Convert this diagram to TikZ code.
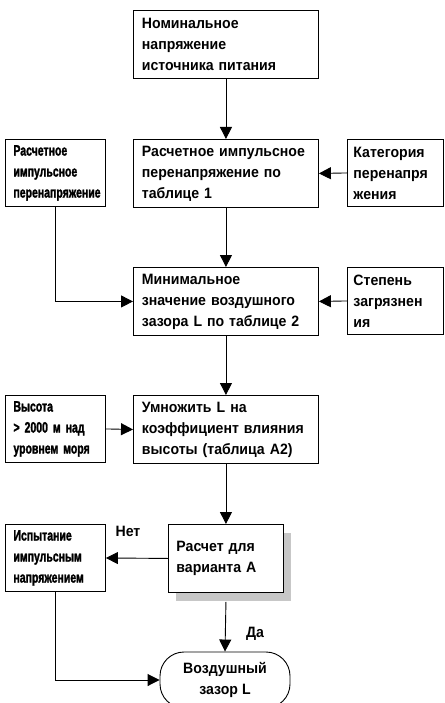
\documentclass[tikz,border=0pt]{standalone}
\usepackage{fontspec}
\setmainfont{Liberation Sans}[FakeStretch=0.94]
\newfontfamily\narrowfont[FakeStretch=0.7, FakeBold=1.6]{Liberation Sans Bold}
\usetikzlibrary{arrows.meta}
\usetikzlibrary{shadows}

\begin{document}
\begin{tikzpicture}[
    x=1pt, y=-1pt,
    every node/.style={font=\bfseries\fontsize{15}{21}\selectfont},
    mainbox/.style={draw, line width=0.9pt, anchor=north west, align=left,
        inner xsep=8.5pt, inner ysep=0pt, minimum height=68pt, text width=168pt},
    sidebox/.style={draw, line width=0.9pt, anchor=north west, align=left,
        inner xsep=8pt, inner ysep=0pt, minimum height=67pt, text width=84pt,
        font=\narrowfont\fontsize{15}{21}\selectfont},
    rightbox/.style={draw, line width=0.9pt, anchor=north west, align=left,
        inner xsep=6pt, inner ysep=0pt, minimum height=67pt, text width=84pt},
    arrow/.style={-{Triangle[length=12pt,width=12pt]}, line width=0.9pt}
]
\useasboundingbox (0,0) rectangle (444,703);

% Main column
\node[mainbox] (nom) at (133,10) {Номинальное\\напряжение\\источника питания};
\node[mainbox] (tab1) at (133,139) {Расчетное импульсное\\перенапряжение по\\таблице 1};
\node[mainbox] (minL) at (133,267) {Минимальное\\значение воздушного\\зазора L по таблице 2};
\node[mainbox] (mult) at (133,395) {Умножить L на\\коэффициент влияния\\высоты (таблица A2)};
\node[mainbox, text width=99pt, inner xsep=8pt,
      drop shadow={shadow xshift=8pt, shadow yshift=-9pt, fill=black!22, opacity=1},
      fill=white] (varA) at (168,524) {Расчет для\\варианта A};
\node[draw, line width=0.9pt, rounded corners=24pt, minimum width=130pt,
      minimum height=56pt, align=center, inner sep=0pt] (air) at (225,680)
      {Воздушный\\зазор L};

% Left side
\node[sidebox] (imp) at (5,139) {Расчетное\\импульсное\\перенапряжение};
\node[sidebox] (alt) at (5,395) {Высота\\> 2000 м над\\уровнем моря};
\node[sidebox] (test) at (5,524) {Испытание\\импульсным\\напряжением};

% Right side
\node[rightbox] (cat) at (347,139) {Категория\\перенапря\\жения};
\node[rightbox] (pol) at (347,267) {Степень\\загрязнен\\ия};

% Connectors
\draw[arrow] (nom.south) -- (tab1.north);
\draw[arrow] (cat.west) -- (tab1.east);
\draw[arrow] (tab1.south) -- (minL.north);
\draw[arrow] (imp.south) |- (minL.west);
\draw[arrow] (pol.west) -- (minL.east);
\draw[arrow] (minL.south) -- (mult.north);
\draw[arrow] (alt.east) -- (mult.west);
\draw[arrow] (mult.south) -- (varA.north);
\draw[arrow] (varA.west) -- (test.east);
\draw[arrow] ([yshift=-9pt]varA.south) -- (air.north);
\draw[arrow] (test.south) |- (air.west);

% Labels
\node (no) at (128,531) {Нет};
\node (yes) at (255,634) {Да};

\end{tikzpicture}
\end{document}
